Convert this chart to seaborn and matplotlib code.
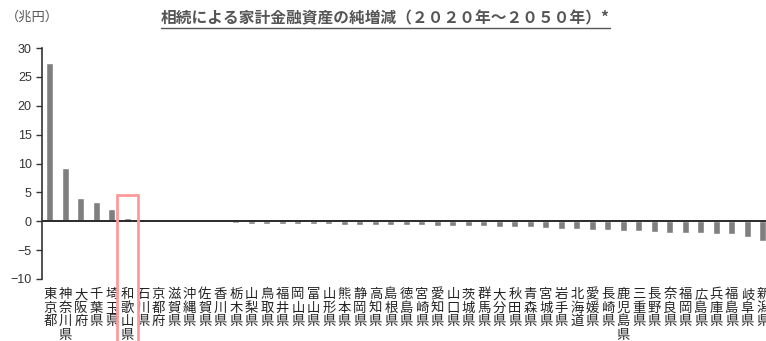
import matplotlib
matplotlib.use("Agg")
import matplotlib.pyplot as plt
from matplotlib.patches import Rectangle
from matplotlib.lines import Line2D
import seaborn as sns
import pandas as pd

# prefectures, sorted by net change (trillion yen)
prefectures = ["東京都", "神奈川県", "大阪府", "千葉県", "埼玉県", "和歌山県", "石川県", "京都府",
               "滋賀県", "沖縄県", "佐賀県", "香川県", "栃木県", "山梨県", "鳥取県", "福井県",
               "岡山県", "富山県", "山形県", "熊本県", "静岡県", "高知県", "島根県", "徳島県",
               "宮崎県", "愛知県", "山口県", "茨城県", "群馬県", "大分県", "秋田県", "青森県",
               "宮城県", "岩手県", "北海道", "愛媛県", "長崎県", "鹿児島県", "三重県", "長野県",
               "奈良県", "福岡県", "広島県", "兵庫県", "福島県", "岐阜県", "新潟県"]
net_change = [27.5, 9.2, 4.0, 3.4, 2.1, 0.6, 0.3, 0.2,
              0.12, 0.0, 0.0, -0.1, -0.3, -0.42, -0.45, -0.47,
              -0.5, -0.52, -0.55, -0.58, -0.6, -0.63, -0.66, -0.7,
              -0.74, -0.78, -0.82, -0.86, -0.9, -0.95, -1.0, -1.05,
              -1.15, -1.3, -1.35, -1.45, -1.6, -1.75, -1.75, -1.85,
              -2.0, -2.0, -2.05, -2.15, -2.2, -2.7, -3.4]
highlight = "和歌山県"

sns.set_style("white")
plt.rcParams["font.family"] = ["Noto Sans CJK JP", "DejaVu Sans"]

df = pd.DataFrame({"pref": prefectures, "value": net_change})

fig = plt.figure(figsize=(7.66, 3.41), dpi=100)
ax = fig.add_axes([0.055, 0.182, 0.945, 0.677])

sns.barplot(data=df, x="pref", y="value", color="#7f7f7f", saturation=1,
            width=0.45, ax=ax)

ax.set_ylim(-10, 30)
ax.set_yticks(range(-10, 31, 5))
ax.set_xlim(-0.5, 46.2)
ax.axhline(0, color="#2a2a2a", lw=1.4)

for s in ["top", "right", "bottom"]:
    ax.spines[s].set_visible(False)
ax.spines["left"].set_color("#333333")
ax.spines["left"].set_linewidth(1.2)

ax.tick_params(axis="y", direction="out", length=4, width=1, color="#333333",
               labelsize=9, labelcolor="#333333", left=True)
for t in ax.get_yticklabels():
    t.set_fontfamily(["Liberation Sans", "DejaVu Sans"])
ax.tick_params(axis="x", length=0, pad=6)
ax.set_xticks(range(len(prefectures)))
ax.set_xticklabels(["\n".join(p) for p in prefectures], fontsize=9.6,
                   color="#222222", va="top", linespacing=0.95)
ax.set_xlabel("")
ax.set_ylabel("")

# highlight box around Wakayama
i = prefectures.index(highlight)
ax.add_patch(Rectangle((i - 0.68, -21), 1.36, 25.5, fill=False,
                       edgecolor="#ff9a9a", lw=2, clip_on=False, zorder=5))

fig.text(0.008, 0.948, "（兆円）", fontsize=9.5, color="#555555", va="center")
title = fig.text(0.503, 0.945, "相続による家計金融資産の純増減（２０２０年～２０５０年）*",
                 fontsize=11.3, color="#555555", fontweight="bold",
                 ha="center", va="center")

# underline the title
fig.canvas.draw()
bb = title.get_window_extent().transformed(fig.transFigure.inverted())
fig.add_artist(Line2D([bb.x0, bb.x1], [bb.y0 - 0.004, bb.y0 - 0.004],
                      color="#555555", lw=1))

fig.savefig("out.png", dpi=100)
